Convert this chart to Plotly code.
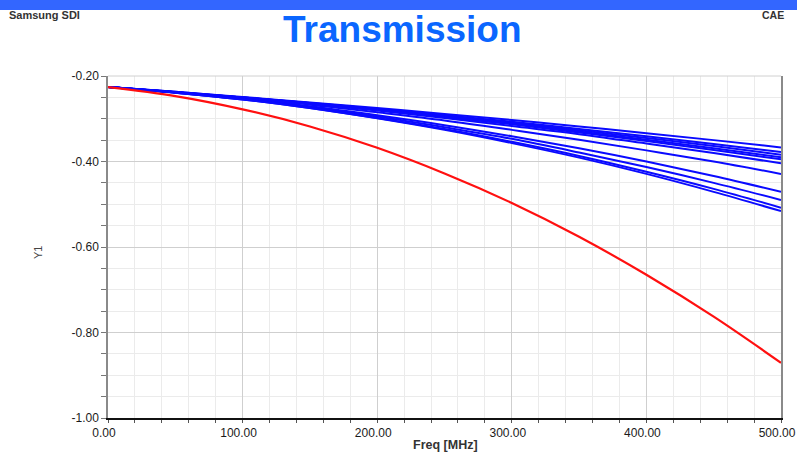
import plotly.graph_objects as go

# Frequency sample points (MHz)
freq = [0, 50, 100, 150, 200, 250, 300, 350, 400, 450, 500]

# Transmission curves (Y1) for the blue family of cases
blue_series = [
    [-0.226, -0.237, -0.249, -0.262, -0.275, -0.289, -0.303, -0.318, -0.334, -0.350, -0.367],
    [-0.226, -0.237, -0.250, -0.263, -0.277, -0.292, -0.307, -0.324, -0.341, -0.359, -0.378],
    [-0.226, -0.238, -0.250, -0.263, -0.278, -0.293, -0.309, -0.327, -0.345, -0.364, -0.384],
    [-0.226, -0.238, -0.250, -0.264, -0.279, -0.295, -0.311, -0.330, -0.349, -0.369, -0.390],
    [-0.226, -0.238, -0.250, -0.264, -0.279, -0.296, -0.313, -0.332, -0.352, -0.373, -0.395],
    [-0.226, -0.238, -0.251, -0.265, -0.281, -0.298, -0.317, -0.336, -0.358, -0.380, -0.404],
    [-0.226, -0.238, -0.252, -0.267, -0.285, -0.304, -0.326, -0.349, -0.374, -0.400, -0.429],
    [-0.226, -0.238, -0.253, -0.271, -0.292, -0.315, -0.341, -0.369, -0.400, -0.434, -0.471],
    [-0.226, -0.239, -0.254, -0.273, -0.295, -0.320, -0.347, -0.379, -0.413, -0.450, -0.490],
    [-0.226, -0.239, -0.255, -0.275, -0.298, -0.324, -0.354, -0.387, -0.424, -0.464, -0.508],
    [-0.226, -0.239, -0.255, -0.275, -0.299, -0.326, -0.357, -0.391, -0.429, -0.471, -0.516],
]

# Reference case (red)
red_series = [-0.226, -0.247, -0.278, -0.318, -0.368, -0.428, -0.497, -0.576, -0.665, -0.763, -0.871]

# Axis ticks
x_tickvals = [0, 100, 200, 300, 400, 500]
x_ticktext = ["0.00", "100.00", "200.00", "300.00", "400.00", "500.00"]
y_tickvals = [-1.0, -0.8, -0.6, -0.4, -0.2]
y_ticktext = ["-1.00", "-0.80", "-0.60", "-0.40", "-0.20"]

W, H = 797, 468
ML, MR, MT, MB = 108, 16, 76, 50
PW, PH = W - ML - MR, H - MT - MB

FONT = "Liberation Sans, Arial, sans-serif"


def px(xp):
    return (xp - ML) / PW


def py(yp):
    return (H - MB - yp) / PH


fig = go.Figure()

for ys in blue_series:
    fig.add_trace(go.Scatter(
        x=freq, y=ys, mode="lines", line=dict(color="#0a0aff", width=2, shape="spline"),
        showlegend=False, hoverinfo="skip"))

fig.add_trace(go.Scatter(
    x=freq, y=red_series, mode="lines", line=dict(color="#ff1010", width=2.2, shape="spline"),
    showlegend=False, hoverinfo="skip"))

tick_font = dict(family=FONT, size=12, color="#1a1a1a")

fig.update_xaxes(
    range=[0, 500], tickvals=x_tickvals, ticktext=x_ticktext,
    showgrid=True, gridcolor="#cfcfcf", gridwidth=1,
    minor=dict(dtick=20, showgrid=True, gridcolor="#ebebeb", gridwidth=1,
               ticks="outside", ticklen=3, tickcolor="#555555"),
    ticks="outside", ticklen=3, tickcolor="#555555",
    showline=True, linecolor="#111111", linewidth=2,
    zeroline=False, tickfont=tick_font, fixedrange=True, automargin=False,
    ticklabelshift=-4, ticklabeloverflow="allow",
)
fig.update_yaxes(
    range=[-1.0, -0.2], tickvals=y_tickvals, ticktext=y_ticktext,
    showgrid=True, gridcolor="#cfcfcf", gridwidth=1,
    minor=dict(dtick=0.05, tick0=-1.0, showgrid=True, gridcolor="#ebebeb", gridwidth=1,
               ticks="outside", ticklen=5, tickcolor="#777777"),
    ticks="outside", ticklen=5, tickcolor="#777777",
    showline=True, linecolor="#8a8a8a", linewidth=1.5, mirror=True,
    zeroline=False, tickfont=tick_font, fixedrange=True, automargin=False,
    ticklabeloverflow="allow",
)

shapes = [
    # banner strip across the top of the page
    dict(type="rect", xref="paper", yref="paper",
         x0=px(0), x1=px(W), y0=py(10), y1=py(0),
         fillcolor="#3366ff", line=dict(width=0), layer="above"),
    # top border of plot area
    dict(type="line", xref="paper", yref="paper", x0=0, x1=1, y0=1, y1=1,
         line=dict(color="#d0d0d0", width=1)),
]

annotations = [
    dict(text="<b>Transmission</b>", x=px(402), y=py(29), xref="paper", yref="paper",
         showarrow=False, xanchor="center", yanchor="middle",
         font=dict(family=FONT, size=37, color="#0a66ff")),
    dict(text="<b>Samsung SDI</b>", x=px(7), y=py(15), xref="paper", yref="paper",
         showarrow=False, xanchor="left", yanchor="middle",
         font=dict(family=FONT, size=11, color="#333333")),
    dict(text="<b>CAE</b>", x=px(786), y=py(15), xref="paper", yref="paper",
         showarrow=False, xanchor="right", yanchor="middle",
         font=dict(family=FONT, size=10.5, color="#333333")),
    dict(text="<b>Freq [MHz]</b>", x=px(445), y=py(445), xref="paper", yref="paper",
         showarrow=False, xanchor="center", yanchor="middle",
         font=dict(family=FONT, size=12.5, color="#333333")),
    dict(text="Y1", x=px(38), y=py(253), xref="paper", yref="paper", textangle=-90,
         showarrow=False, xanchor="center", yanchor="middle",
         font=dict(family=FONT, size=11, color="#444444")),
]

fig.update_layout(
    width=W, height=H,
    margin=dict(l=ML, r=MR, t=MT, b=MB, pad=0, autoexpand=False),
    paper_bgcolor="white", plot_bgcolor="white",
    shapes=shapes, annotations=annotations,
    showlegend=False,
)

fig.write_html("out.html", config={"displayModeBar": False})
